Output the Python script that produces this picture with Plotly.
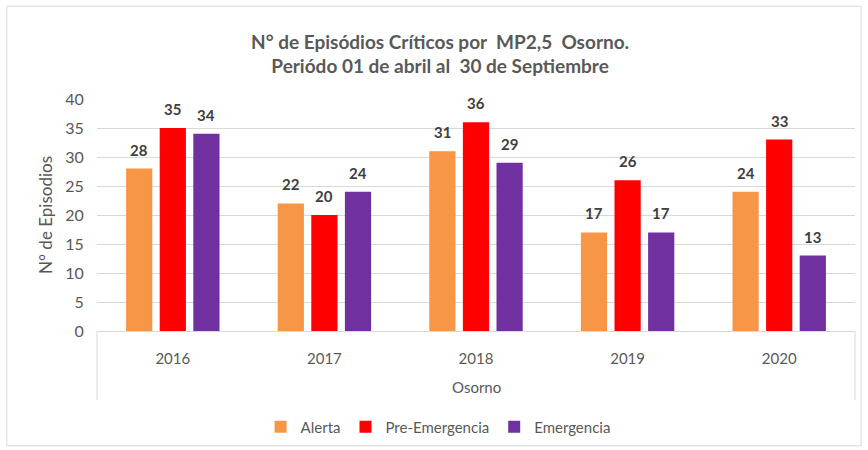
import plotly.graph_objects as go

years = ["2016", "2017", "2018", "2019", "2020"]
alerta = [28, 22, 31, 17, 24]
pre_emergencia = [35, 20, 36, 26, 33]
emergencia = [34, 24, 29, 17, 13]
series_names = ["Alerta", "Pre-Emergencia", "Emergencia"]
colors = ["#F79646", "#FF0000", "#7030A0"]

FONT = "Lato, Carlito, Calibri, sans-serif"
GRAY = "#595959"

fig = go.Figure()
all_series = [alerta, pre_emergencia, emergencia]
for name, vals, col in zip(series_names, all_series, colors):
    fig.add_trace(go.Bar(x=years, y=vals, name=name, marker_color=col,
                         marker_line_width=0))

bargap = 0.335
bargroupgap = 0.22
slot = (1 - bargap) / 3
for k, vals in enumerate(all_series):
    for i, v in enumerate(vals):
        fig.add_annotation(x=i + (k - 1) * slot, y=v, xref="x", yref="y",
                           text=f"<b>{v}</b>", showarrow=False, yshift=19,
                           font=dict(family=FONT, size=15, color="#404040"))

fig.add_annotation(x=0.5, y=-0.242, xref="paper", yref="paper", text="Osorno",
                   showarrow=False, yanchor="middle",
                   font=dict(family=FONT, size=15, color=GRAY))

# category box lines below axis
for xp in [0, 1]:
    fig.add_shape(type="line", xref="paper", yref="paper", x0=xp, x1=xp,
                  y0=0, y1=-0.297, line=dict(color="#D9D9D9", width=1))
# chart border
fig.add_shape(type="rect", xref="paper", yref="paper", x0=-0.119, x1=1.008,
              y0=-0.495, y1=1.40, line=dict(color="#D9D9D9", width=1),
              layer="below")

fig.update_layout(
    width=868, height=450,
    margin=dict(l=97, r=13, t=99, b=119, autoexpand=False),
    paper_bgcolor="white", plot_bgcolor="white",
    barmode="group", bargap=bargap, bargroupgap=bargroupgap,
    title=dict(text="<b>N° de Episódios Críticos por  MP2,5  Osorno.<br>Periódo 01 de abril al  30 de Septiembre</b>",
               x=0.507, xanchor="center", y=0.892, yanchor="middle",
               font=dict(family=FONT, size=19, color=GRAY)),
    font=dict(family=FONT, color=GRAY),
    showlegend=True,
    legend=dict(orientation="h", x=0.45, xanchor="center", y=-0.414, yanchor="middle",
                font=dict(family=FONT, size=15, color=GRAY), traceorder="normal",
                itemwidth=30),
)
fig.update_yaxes(range=[0, 40], dtick=5, showgrid=True, gridcolor="#D9D9D9",
                 gridwidth=1, zeroline=False, showline=False, automargin=False,
                 ticks="outside", ticklen=9, tickcolor="rgba(0,0,0,0)",
                 tickfont=dict(family=FONT, size=16, color=GRAY),
                 title=dict(text="N° de Episodios", font=dict(family=FONT, size=17, color=GRAY),
                            standoff=8))
fig.update_xaxes(showline=True, linecolor="#D9D9D9", linewidth=1, automargin=False,
                 ticks="outside", ticklen=14, tickcolor="rgba(0,0,0,0)",
                 tickfont=dict(family=FONT, size=15, color=GRAY))

fig.write_html("out.html", config={"displayModeBar": False},
               post_script="document.body.style.margin='0';")
